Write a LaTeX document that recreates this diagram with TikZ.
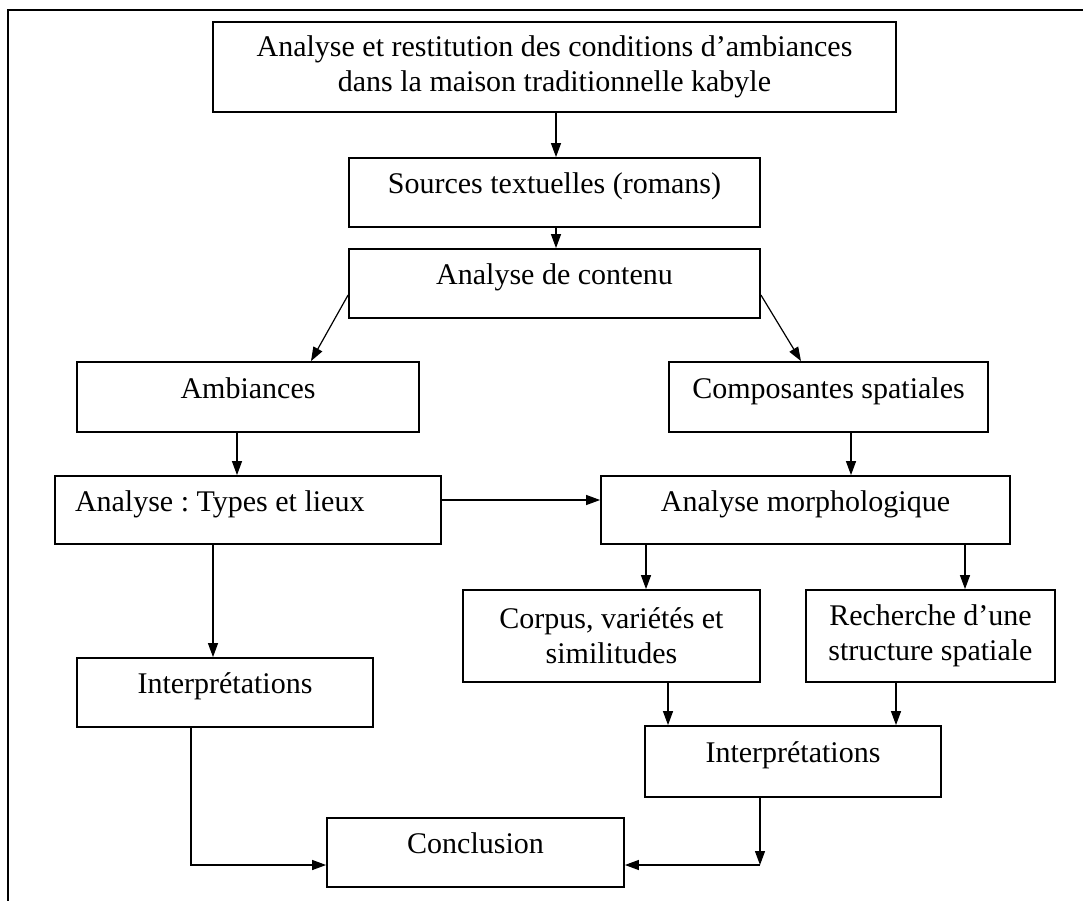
\documentclass[tikz,border=0pt]{standalone}
\usepackage{fontspec}
\setmainfont{Liberation Serif}
\usetikzlibrary{arrows.meta}
\frenchspacing
\tikzset{
  box/.style={draw, line width=1.8pt, inner sep=0pt, align=center,
    font=\fontsize{30}{35}\selectfont},
  single/.style={box, text height=0.75em, text depth=0.48em},
  arr/.style={line width=1.2pt, -{Triangle[length=14pt,width=10pt]}},
  frame/.style={line width=1.5pt}
}
\begin{document}
\begin{tikzpicture}[x=1pt,y=-1pt]
\useasboundingbox (0,0) rectangle (1083,901);
\draw[frame] (1083,10) -- (8,10) -- (8,901);

\node[box, minimum width=683pt, minimum height=90pt] (top) at (554.5,67)
  {Analyse et restitution des conditions d’ambiances\\dans la maison traditionnelle kabyle};
\node[single, minimum width=411pt, minimum height=69pt] (src) at (554.5,192.5) {Sources textuelles (romans)};
\node[single, minimum width=411pt, minimum height=69pt] (cont) at (554.5,283.5) {Analyse de contenu};
\node[single, minimum width=342pt, minimum height=70pt] (amb) at (248,397) {Ambiances};
\node[single, minimum width=319pt, minimum height=70pt] (comp) at (828.5,397) {Composantes spatiales};
\node[single, text width=346pt, inner xsep=20pt, align=flush left, minimum height=68pt] (types) at (248,510) {Analyse : Types et lieux};
\node[single, minimum width=409pt, minimum height=68pt] (morph) at (805.5,510) {Analyse morphologique};
\node[box, minimum width=297pt, minimum height=92pt] (corpus) at (611.5,636) {Corpus, variétés et\\similitudes};
\node[box, minimum width=249pt, minimum height=92pt] (rech) at (930.5,636) {Recherche d’une\\structure spatiale};
\node[single, minimum width=296pt, minimum height=69pt] (intL) at (225,692.5) {Interprétations};
\node[single, minimum width=296pt, minimum height=71pt] (intR) at (793,761.5) {Interprétations};
\node[single, minimum width=297pt, minimum height=69pt] (concl) at (475.5,852.5) {Conclusion};

\coordinate (cj) at (760,865);

\draw[arr] ([xshift=1.5pt]top.south) -- ([xshift=1.5pt]src.north);
\draw[arr] ([xshift=1.5pt]src.south) -- ([xshift=1.5pt]cont.north);
\draw[arr] ([yshift=-11.5pt]cont.west) -- ([xshift=63pt]amb.north);
\draw[arr] ([yshift=-11.5pt]cont.east) -- ([xshift=-27.5pt]comp.north);
\draw[arr] ([xshift=-11pt]amb.south) -- ([xshift=-11pt]types.north);
\draw[arr] ([xshift=22.5pt]comp.south) -- ([xshift=45.5pt]morph.north);
\draw[arr] ([yshift=10pt]types.east) -- ([yshift=10pt]morph.west);
\draw[arr] ([xshift=-159.5pt]morph.south) -- ([xshift=34.5pt]corpus.north);
\draw[arr] ([xshift=159.5pt]morph.south) -- ([xshift=34.5pt]rech.north);
\draw[arr] ([xshift=-35pt]types.south) -- ([xshift=-12pt]intL.north);
\draw[arr] ([xshift=56.5pt]corpus.south) -- ([xshift=-125pt]intR.north);
\draw[arr] ([xshift=-34.5pt]rech.south) -- ([xshift=103pt]intR.north);
\draw[arr] ([xshift=-34pt]intL.south) |- ([yshift=-12.5pt]concl.west);
\draw[arr] ([xshift=-33pt]intR.south) -- (cj);
\draw[arr] (cj) -- ([yshift=-12.5pt]concl.east);
\end{tikzpicture}
\end{document}
